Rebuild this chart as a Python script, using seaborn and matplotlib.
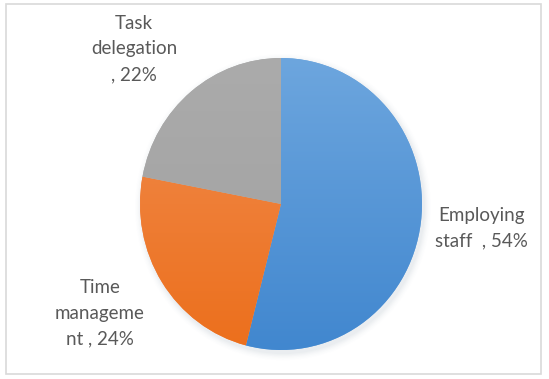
import numpy as np
import matplotlib
matplotlib.use("Agg")
import matplotlib.pyplot as plt
import seaborn as sns
from matplotlib.colors import LinearSegmentedColormap
from matplotlib.patches import Rectangle, Ellipse

sns.set_theme(style="white")
plt.rcParams["font.family"] = ["Lato", "DejaVu Sans"]

# Data
categories = ["Employing staff", "Time management", "Task delegation"]
shares = [54, 24, 22]
label_texts = ["Employing\nstaff  , 54%", "Time\nmanageme\nnt , 24%", "Task\ndelegation\n, 22%"]
top_colors = ["#6DA6DE", "#F18D50", "#ABABAB"]
bottom_colors = ["#4187CF", "#EC6F1C", "#A0A0A0"]

W, H = 549, 379
# the pie is drawn slightly taller than wide
sy = 141 / 146
fig = plt.figure(figsize=(W / 100, H / 100), dpi=100)
ax = fig.add_axes([0, 0, 1, 1])


def py(y):
    """pixel row (from top) -> data y"""
    return (H - y) * sy


# chart frame
ax.add_patch(Rectangle((6, py(374)), 535, 370 * sy, fill=False, ec="#D9D9D9", lw=1.2))

cx, cy, r = 281, py(204), 141

# soft drop shadow under the pie
for i, a in enumerate(np.linspace(0.05, 0.012, 6)):
    d = 2 * (r + 1 + i * 1.2)
    ax.add_patch(Ellipse((cx + 2, cy - 3), d, d, color="#9AA8B8", alpha=a, lw=0))

wedges, _ = ax.pie(shares, startangle=90, counterclock=False, center=(cx, cy),
                   radius=r, colors=top_colors, frame=True,
                   wedgeprops=dict(linewidth=0))
ax.set_aspect("auto")
ax.set_xlim(0, W)
ax.set_ylim(0, H * sy)
ax.axis("off")

# vertical gradient fill for each wedge
grad = np.linspace(0, 1, 256).reshape(-1, 1)
for w, c0, c1 in zip(wedges, top_colors, bottom_colors):
    cmap = LinearSegmentedColormap.from_list("g", [c1, c0])
    im = ax.imshow(grad, cmap=cmap, origin="lower", aspect="auto",
                   extent=(cx - r, cx + r, cy - r, cy + r), zorder=w.get_zorder() + 0.1)
    im.set_clip_path(w)
ax.set_aspect("auto")
ax.set_xlim(0, W)
ax.set_ylim(0, H * sy)

# data labels
label_pos = [(481, 228), (100, 313), (134, 49)]
for txt, (lx, ly) in zip(label_texts, label_pos):
    ax.text(lx, py(ly), txt, ha="center", va="center", fontsize=13.5,
            color="#595959", linespacing=1.62)

fig.savefig("out.png", dpi=100, facecolor="white")
